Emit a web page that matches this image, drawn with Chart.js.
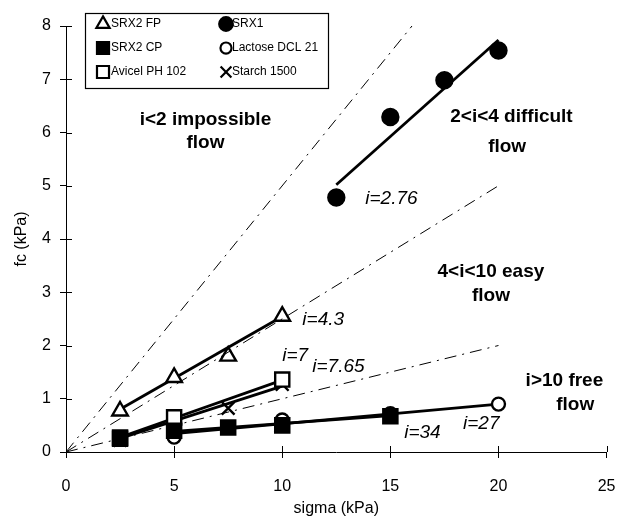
<!DOCTYPE html>
<html>
<head>
<meta charset="utf-8">
<script src="https://cdn.jsdelivr.net/npm/chart.js@4.4.1/dist/chart.umd.min.js"></script>
<style>
  body { margin: 0; background: #fff; }
</style>
</head>
<body>
<canvas id="flowChart" width="619" height="524"></canvas>
<script>
// measured points, sigma (kPa) against fc (kPa)
var materials = ['SRX2 FP', 'SRX1', 'SRX2 CP', 'Lactose DCL 21', 'Avicel PH 102', 'Starch 1500'];
var srx2fpSigma = [2.5, 5, 7.5, 10];
var srx2fpFc = [0.77, 1.4, 1.8, 2.55];
var srx1Sigma = [12.5, 15, 17.5, 20];
var srx1Fc = [4.78, 6.29, 6.98, 7.54];
var srx2cpSigma = [2.5, 5, 7.5, 10, 15];
var srx2cpFc = [0.25, 0.4, 0.46, 0.5, 0.67];
var lactoseSigma = [5, 10, 15, 20];
var lactoseFc = [0.28, 0.6, 0.72, 0.9];
var avicelSigma = [2.5, 5, 10];
var avicelFc = [0.27, 0.65, 1.36];
var starchSigma = [2.5, 5, 7.5, 10];
var starchFc = [0.22, 0.52, 0.82, 1.27];

// flow function fits: fc = sigma / i + offset
var fitIndex = [4.3, 2.76, 34, 27, 7, 7.65];
var fitOffset = [0.22, 0.49, 0.24, 0.16, -0.08, -0.07];
var fitFrom = [2.5, 12.5, 5, 5, 2.5, 2.5];
var fitTo = [10, 20, 15, 20, 10, 10];
var fitLabelX = [10.93, 13.84, 15.64, 18.36, 10.0, 11.39];
var fitLabelY = [2.48, 4.75, 0.37, 0.53, 1.8, 1.6];

// flowability class limits, drawn from the origin
var boundaryIndex = [2, 4, 10];
var boundaryEnd = [16, 20, 20];

var regionText = [['i<2 impossible', 'flow'], ['2<i<4 difficult', 'flow'], ['4<i<10 easy', 'flow'], ['i>10 free', 'flow']];
var regionX = [[6.45, 6.45], [20.6, 20.4], [19.65, 19.65], [23.05, 23.55]];
var regionY = [[6.23, 5.8], [6.29, 5.73], [3.38, 2.93], [1.33, 0.88]];

var xTickValues = [0, 5, 10, 15, 20, 25];
var yTickValues = [0, 1, 2, 3, 4, 5, 6, 7, 8];

var markerStyle = ['triangle', 'circle', 'rect', 'circle', 'rect', 'crossRot'];
var markerFilled = [false, true, true, false, false, false];
var markerRadius = [9, 8, 10, 6.5, 10, 9];

function xy(xs, ys) {
    return xs.map(function (x, k) { return { x: x, y: ys[k] }; });
}

var pointSets = [
    xy(srx2fpSigma, srx2fpFc),
    xy(srx1Sigma, srx1Fc),
    xy(srx2cpSigma, srx2cpFc),
    xy(lactoseSigma, lactoseFc),
    xy(avicelSigma, avicelFc),
    xy(starchSigma, starchFc)
];

var datasets = [];

boundaryIndex.forEach(function (i, k) {
    datasets.push({
        data: [{ x: 0, y: 0 }, { x: boundaryEnd[k], y: boundaryEnd[k] / i }],
        showLine: true,
        borderColor: '#000',
        borderWidth: 1,
        borderDash: [12, 6, 2, 6],
        pointRadius: 0
    });
});

materials.forEach(function (name, k) {
    datasets.push({
        label: name,
        data: pointSets[k],
        showLine: false,
        pointStyle: markerStyle[k],
        pointRadius: markerRadius[k],
        backgroundColor: markerFilled[k] ? '#000' : '#fff',
        borderColor: '#000',
        pointBorderWidth: 2.4,
        isMarker: true
    });
});

fitIndex.forEach(function (i, k) {
    datasets.push({
        data: [
            { x: fitFrom[k], y: fitFrom[k] / i + fitOffset[k] },
            { x: fitTo[k], y: fitTo[k] / i + fitOffset[k] }
        ],
        showLine: true,
        borderColor: '#000',
        borderWidth: 2.8,
        pointRadius: 0
    });
});

var fontFamily = '"Liberation Sans", Arial, Helvetica, sans-serif';
Chart.defaults.font.family = fontFamily;
Chart.defaults.color = '#000';

// tick marks that cross the axis line
var innerTicks = {
    id: 'innerTicks',
    afterDraw: function (chart) {
        var ctx = chart.ctx, xs = chart.scales.x, ys = chart.scales.y;
        ctx.save();
        ctx.strokeStyle = '#000';
        ctx.lineWidth = 1;
        ctx.beginPath();
        xs.ticks.forEach(function (t) {
            var px = Math.round(xs.getPixelForValue(t.value)) + 0.5;
            ctx.moveTo(px, ys.bottom);
            ctx.lineTo(px, ys.bottom - 6);
        });
        ys.ticks.forEach(function (t) {
            var py = Math.round(ys.getPixelForValue(t.value)) + 0.5;
            ctx.moveTo(xs.left, py);
            ctx.lineTo(xs.left + 6, py);
        });
        ctx.stroke();
        ctx.restore();
    }
};

// region names and fitted i values
var flowLabels = {
    id: 'flowLabels',
    afterDatasetsDraw: function (chart) {
        var ctx = chart.ctx, xs = chart.scales.x, ys = chart.scales.y;
        ctx.save();
        ctx.fillStyle = '#000';
        ctx.textBaseline = 'middle';
        ctx.textAlign = 'center';
        ctx.font = 'bold 19px ' + fontFamily;
        regionText.forEach(function (lines, k) {
            lines.forEach(function (txt, j) {
                ctx.fillText(txt, xs.getPixelForValue(regionX[k][j]), ys.getPixelForValue(regionY[k][j]));
            });
        });
        ctx.textAlign = 'left';
        ctx.font = 'italic 19px ' + fontFamily;
        fitIndex.forEach(function (i, k) {
            ctx.fillText('i=' + i, xs.getPixelForValue(fitLabelX[k]), ys.getPixelForValue(fitLabelY[k]));
        });
        ctx.restore();
    }
};

// boxed legend in the upper left of the plot
var boxLegend = {
    id: 'boxLegend',
    afterDraw: function (chart) {
        var ctx = chart.ctx;
        ctx.save();
        ctx.fillStyle = '#fff';
        ctx.fillRect(85, 13, 243, 75);
        ctx.strokeStyle = '#000';
        ctx.lineWidth = 1.2;
        ctx.strokeRect(85.5, 13.5, 243, 75);
        ctx.font = '12px ' + fontFamily;
        ctx.textBaseline = 'middle';
        ctx.textAlign = 'left';
        var markers = chart.data.datasets.filter(function (d) { return d.isMarker; });
        markers.forEach(function (ds, k) {
            var col = k % 2, row = Math.floor(k / 2);
            var mx = col ? 226 : 103;
            var my = 24 + row * 24;
            ctx.fillStyle = ds.backgroundColor;
            ctx.strokeStyle = '#000';
            ctx.lineWidth = 2.2;
            Chart.helpers.drawPoint(ctx, {
                pointStyle: ds.pointStyle,
                radius: ds.pointRadius * 0.85,
                borderWidth: 2.2,
                rotation: 0
            }, mx, my);
            ctx.fillStyle = '#000';
            ctx.fillText(ds.label, col ? 232 : 111, my);
        });
        ctx.restore();
    }
};

new Chart(document.getElementById('flowChart'), {
    type: 'scatter',
    data: { datasets: datasets },
    plugins: [innerTicks, flowLabels, boxLegend],
    options: {
        responsive: false,
        animation: false,
        layout: { padding: { top: 26, right: 10, left: 0, bottom: 0 } },
        plugins: {
            legend: { display: false },
            tooltip: { enabled: false }
        },
        scales: {
            x: {
                type: 'linear',
                min: 0,
                max: 25,
                afterBuildTicks: function (s) { s.ticks = xTickValues.map(function (v) { return { value: v }; }); },
                afterFit: function (s) { s.height = 72; s.paddingLeft = 0; s.paddingRight = 0; },
                border: { color: '#000', width: 1 },
                grid: { drawOnChartArea: false, tickLength: 6, color: '#000' },
                ticks: { color: '#000', font: { size: 16 }, padding: 19, maxRotation: 0 },
                title: { display: true, text: 'sigma (kPa)', color: '#000', font: { size: 16 }, padding: { top: 0, bottom: 6 } }
            },
            y: {
                type: 'linear',
                min: 0,
                max: 8,
                afterBuildTicks: function (s) { s.ticks = yTickValues.map(function (v) { return { value: v }; }); },
                afterFit: function (s) { s.width = 66; s.paddingTop = 0; s.paddingBottom = 0; },
                border: { color: '#000', width: 1 },
                grid: { drawOnChartArea: false, tickLength: 6, color: '#000' },
                ticks: { color: '#000', font: { size: 16 }, padding: 9 },
                title: { display: true, text: 'fc (kPa)', color: '#000', font: { size: 16 }, padding: { top: 12, bottom: 0 } }
            }
        }
    }
});
</script>
</body>
</html>
